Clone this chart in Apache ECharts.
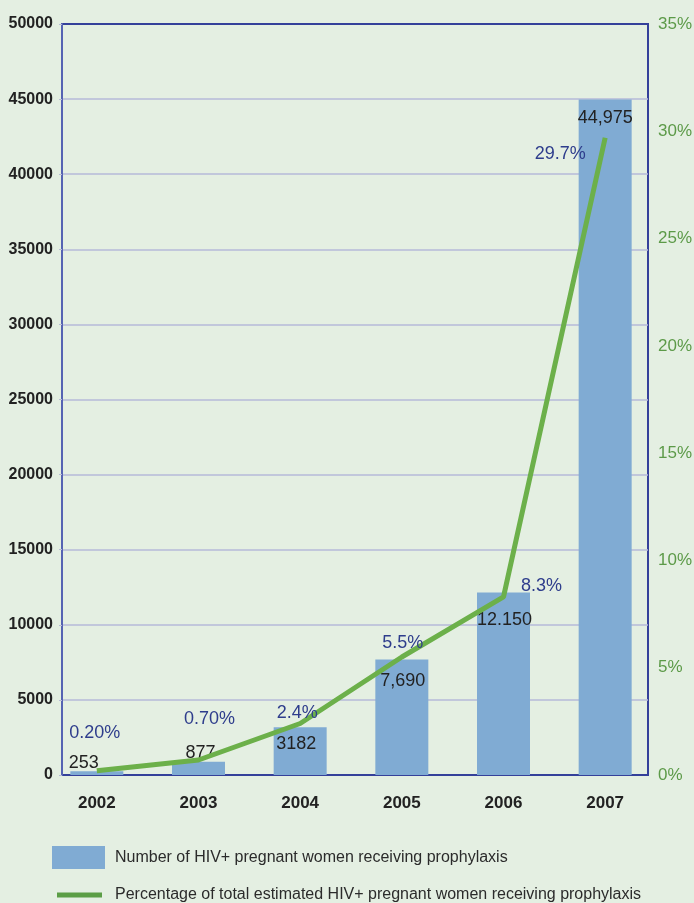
<!DOCTYPE html>
<html>
<head>
<meta charset="utf-8">
<script src="https://cdn.jsdelivr.net/npm/echarts@6/dist/echarts.min.js"></script>
<style>
  html, body { margin: 0; padding: 0; background: #e4efe2; }
  #chart { width: 694px; height: 903px; }
</style>
</head>
<body>
<div id="chart"></div>
<script>
// chart data
const years = ['2002', '2003', '2004', '2005', '2006', '2007']
const womenCount = [253, 877, 3182, 7690, 12150, 44975]
const countLabels = ['253', '877', '3182', '7,690', '12.150', '44,975']
const pctValues = [0.2, 0.7, 2.4, 5.5, 8.3, 29.7]
const pctLabels = ['0.20%', '0.70%', '2.4%', '5.5%', '8.3%', '29.7%']
const countAxis = { min: 0, max: 50000, interval: 5000 }
const pctAxis = { min: 0, max: 35, interval: 5 }
const barName = 'Number of HIV+ pregnant women receiving prophylaxis'
const lineName = 'Percentage of total estimated HIV+ pregnant women receiving prophylaxis'

// label placement (style only)
const countLabelPos = ['top', 'top', 'insideTop', 'insideTop', 'insideTop', 'insideTop']
const countLabelOffset = [[-13, 6], [2, 5], [-4, 3], [1, 8], [1, 14], [0, 5]]
const pctLabelOffset = [[-2, -38], [11, -41], [-3, -10], [1, -14], [38, -11], [-45, 16]]

const FONT = "'Liberation Sans Narrow', 'Liberation Sans', sans-serif"
const bg = '#e4efe2'
const barColor = '#80abd3'
const lineColor = '#6cb04a'

const chart = echarts.init(document.getElementById('chart'))

const option = {
  backgroundColor: bg,
  textStyle: { fontFamily: FONT },
  grid: [
    // frame + visible axes
    { left: 62, right: 46, top: 24, bottom: 128, outerBoundsMode: 'none', containLabel: false, show: true, borderColor: '#34409a', borderWidth: 2, backgroundColor: 'transparent' },
    // data grid (category centres)
    { left: 46, right: 38, top: 24, bottom: 128, outerBoundsMode: 'none', containLabel: false }
  ],
  legend: [
    {
      data: [barName],
      left: 47,
      top: 841,
      icon: 'rect',
      itemWidth: 53,
      itemHeight: 23,
      textStyle: { fontFamily: FONT, fontSize: 16, color: '#2b2b2b', padding: [0, 0, 0, 5] }
    },
    {
      data: [{ name: lineName, itemStyle: { color: '#5b9e46' } }],
      left: 52,
      top: 882,
      icon: 'rect',
      itemWidth: 45,
      itemHeight: 5,
      textStyle: { fontFamily: FONT, fontSize: 16, color: '#2b2b2b', padding: [0, 0, 0, 8] }
    }
  ],
  xAxis: [
    { type: 'category', gridIndex: 0, data: years, show: false },
    {
      type: 'category',
      gridIndex: 1,
      data: years,
      axisLine: { show: false },
      axisTick: { show: false },
      axisLabel: { margin: 20, fontFamily: FONT, fontSize: 17, fontWeight: 'bold', color: '#222' }
    }
  ],
  yAxis: [
    {
      type: 'value',
      gridIndex: 0,
      position: 'left',
      min: countAxis.min,
      max: countAxis.max,
      interval: countAxis.interval,
      axisLine: { show: true, lineStyle: { color: '#5563b3', width: 2 } },
      axisTick: { show: true, length: 3, lineStyle: { color: '#b6bad8' } },
      splitLine: { show: true, showMinLine: false, showMaxLine: false, lineStyle: { color: '#b6bad8', width: 1.5 } },
      axisLabel: { margin: 9, formatter: v => String(v), fontFamily: FONT, fontSize: 16, fontWeight: 'bold', color: '#222' }
    },
    {
      type: 'value',
      gridIndex: 0,
      position: 'right',
      min: pctAxis.min,
      max: pctAxis.max,
      interval: pctAxis.interval,
      axisLine: { show: false },
      axisTick: { show: false },
      splitLine: { show: false },
      axisLabel: { margin: 10, formatter: '{value}%', fontFamily: FONT, fontSize: 17, color: '#5c9a48' }
    },
    { type: 'value', gridIndex: 1, min: countAxis.min, max: countAxis.max, show: false },
    { type: 'value', gridIndex: 1, min: pctAxis.min, max: pctAxis.max, show: false }
  ],
  series: [
    {
      name: barName,
      type: 'bar',
      xAxisIndex: 1,
      yAxisIndex: 2,
      barWidth: 53,
      itemStyle: { color: barColor },
      data: womenCount.map((v, i) => ({
        value: v,
        label: {
          show: true,
          position: countLabelPos[i],
          offset: countLabelOffset[i],
          formatter: countLabels[i],
          fontFamily: FONT,
          fontSize: 18,
          color: '#222'
        }
      }))
    },
    {
      name: lineName,
      type: 'line',
      xAxisIndex: 1,
      yAxisIndex: 3,
      symbol: 'circle',
      symbolSize: 0.1,
      z: 3,
      itemStyle: { color: lineColor },
      lineStyle: { color: lineColor, width: 5 },
      data: pctValues.map((v, i) => ({
        value: v,
        label: {
          show: true,
          position: 'inside',
          offset: pctLabelOffset[i],
          formatter: pctLabels[i],
          fontFamily: FONT,
          fontSize: 18,
          color: '#2e3d8c'
        }
      }))
    }
  ]
}

chart.setOption(option)
</script>
</body>
</html>
